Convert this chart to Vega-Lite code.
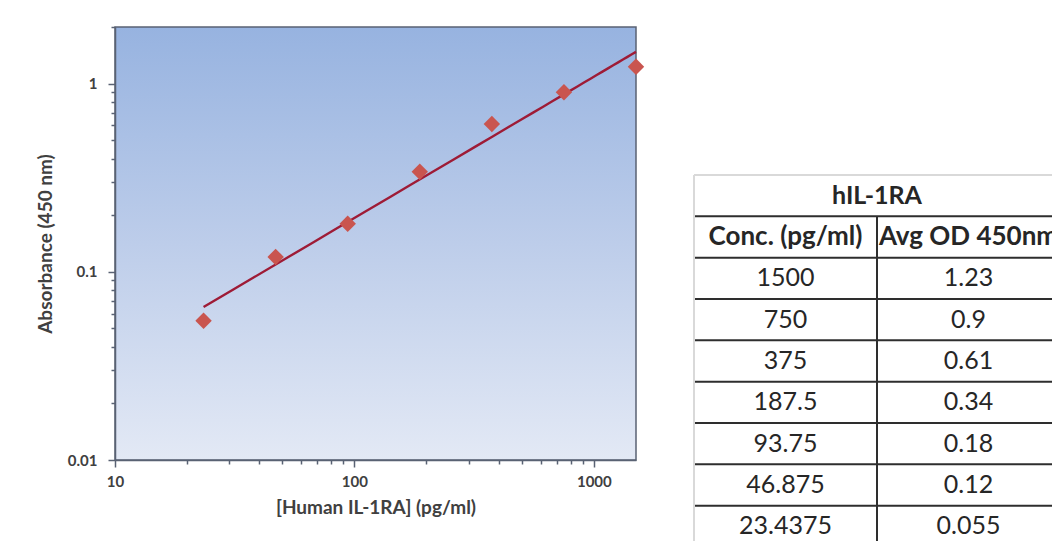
{
  "$schema": "https://vega.github.io/schema/vega-lite/v6.json",
  "background": "white",
  "padding": {"left": 35, "top": 25, "right": 0, "bottom": 0},
  "spacing": 48,
  "config": {"view": {"stroke": null}, "font": "Lato"},
  "datasets": {
    "std": [
      {"conc": 1500, "od": 1.23},
      {"conc": 750, "od": 0.9},
      {"conc": 375, "od": 0.61},
      {"conc": 187.5, "od": 0.34},
      {"conc": 93.75, "od": 0.18},
      {"conc": 46.875, "od": 0.12},
      {"conc": 23.4375, "od": 0.055}
    ]
  },
  "hconcat": [
    {
      "width": 521,
      "height": 433,
      "view": {
        "stroke": "#596273",
        "strokeWidth": 1.5,
        "fill": {
          "gradient": "linear",
          "x1": 0, "y1": 0, "x2": 0, "y2": 1,
          "stops": [
            {"offset": 0, "color": "#97b3e0"},
            {"offset": 0.5, "color": "#bdcdea"},
            {"offset": 1, "color": "#e3e9f5"}
          ]
        }
      },
      "data": {"name": "std"},
      "layer": [
        {
          "transform": [{"regression": "od", "on": "conc", "method": "pow"}],
          "mark": {"type": "line", "color": "#9e1b36", "strokeWidth": 2.4},
          "encoding": {
            "x": {
              "field": "conc", "type": "quantitative",
              "scale": {"type": "log", "domain": [10, 1500], "nice": false},
              "axis": {
                "title": "[Human IL-1RA] (pg/ml)",
                "values": [10, 20, 30, 40, 50, 60, 70, 80, 90, 100, 200, 300, 400, 500, 600, 700, 800, 900, 1000],
                "labelExpr": "(datum.value == 10 || datum.value == 100 || datum.value == 1000) ? format(datum.value, 'd') : ''",
                "labelOverlap": false,
                "labelFlush": false,
                "grid": false,
                "tickSize": {"condition": {"test": "datum.value == 10 || datum.value == 100 || datum.value == 1000", "value": 7}, "value": 4},
                "labelFontSize": {"condition": {"test": "datum.value == 10 || datum.value == 100 || datum.value == 1000", "value": 15}, "value": 0},
                "tickColor": "#596273",
                "tickWidth": 1.5,
                "domainColor": "#596273",
                "domainWidth": 1.5,
                "labelPadding": 7,
                "labelFont": "Lato",
                "labelFontWeight": "bold",
                "labelColor": "#404040",
                "titleFont": "Lato",
                "titleFontSize": 19,
                "titleFontWeight": "bold",
                "titleColor": "#404040",
                "titlePadding": 9
              }
            },
            "y": {
              "field": "od", "type": "quantitative",
              "scale": {"type": "log", "domain": [0.01, 2], "nice": false},
              "axis": {
                "title": "Absorbance (450 nm)",
                "values": [0.01, 0.02, 0.03, 0.04, 0.05, 0.06, 0.07, 0.08, 0.09, 0.1, 0.2, 0.3, 0.4, 0.5, 0.6, 0.7, 0.8, 0.9, 1, 2],
                "labelExpr": "(datum.value == 0.01 || datum.value == 0.1 || datum.value == 1) ? format(datum.value, '~g') : ''",
                "labelOverlap": false,
                "labelFlush": false,
                "grid": false,
                "tickSize": {"condition": {"test": "datum.value == 0.01 || datum.value == 0.1 || datum.value == 1", "value": 7}, "value": 4},
                "labelFontSize": {"condition": {"test": "datum.value == 0.01 || datum.value == 0.1 || datum.value == 1", "value": 15}, "value": 0},
                "tickColor": "#596273",
                "tickWidth": 1.5,
                "domainColor": "#596273",
                "domainWidth": 1.5,
                "labelPadding": 11,
                "labelFont": "Lato",
                "labelFontWeight": "bold",
                "labelColor": "#404040",
                "titleFont": "Lato",
                "titleFontSize": 19,
                "titleFontWeight": "bold",
                "titleColor": "#404040",
                "titlePadding": 12
              }
            }
          }
        },
        {
          "mark": {"type": "point", "shape": "diamond", "filled": true, "size": 270, "color": "#c9554f", "opacity": 1},
          "encoding": {
            "x": {"field": "conc", "type": "quantitative"},
            "y": {"field": "od", "type": "quantitative"}
          }
        }
      ]
    },
    {
      "width": 366,
      "height": 520,
      "data": {"name": "std"},
      "layer": [
        {
          "mark": {"type": "rule", "color": "#2e2e2e", "strokeWidth": 2},
          "encoding": {
            "y": {
              "field": "conc", "type": "nominal", "bandPosition": 0,
              "scale": {
                "type": "band",
                "domain": ["hIL-1RA", "Conc. (pg/ml)", 1500, 750, 375, 187.5, 93.75, 46.875, 23.4375],
                "range": [148, 520],
                "paddingInner": 0, "paddingOuter": 0
              },
              "axis": null
            }
          }
        },
        {
          "data": {"values": [{}]},
          "mark": {"type": "rule", "color": "#2e2e2e", "strokeWidth": 2},
          "encoding": {
            "y": {"datum": "Conc. (pg/ml)", "type": "nominal", "bandPosition": 0}
          }
        },
        {
          "data": {"values": [{}]},
          "mark": {"type": "rule", "color": "#d9d9d9", "strokeWidth": 2},
          "encoding": {
            "y": {"datum": "hIL-1RA", "type": "nominal", "bandPosition": 0}
          }
        },
        {
          "data": {"values": [{}]},
          "mark": {"type": "rule", "color": "#2e2e2e", "strokeWidth": 2},
          "encoding": {
            "x": {
              "datum": "od", "type": "nominal", "bandPosition": 0,
              "scale": {"type": "band", "domain": ["conc", "od"], "paddingInner": 0, "paddingOuter": 0},
              "axis": null
            },
            "y": {"datum": "Conc. (pg/ml)", "type": "nominal", "bandPosition": 0},
            "y2": {"datum": 23.4375, "bandPosition": 1}
          }
        },
        {
          "data": {"values": [{}]},
          "mark": {"type": "rule", "color": "#d9d9d9", "strokeWidth": 2},
          "encoding": {
            "x": {"datum": "conc", "type": "nominal", "bandPosition": 0},
            "y": {"datum": "hIL-1RA", "type": "nominal", "bandPosition": 0},
            "y2": {"datum": 23.4375, "bandPosition": 1}
          }
        },
        {
          "data": {"values": [{}]},
          "mark": {"type": "text", "text": "hIL-1RA", "font": "Lato", "fontSize": 25, "fontWeight": "bold", "color": "#262626", "align": "center", "baseline": "middle"},
          "encoding": {
            "y": {"datum": "hIL-1RA", "type": "nominal"}
          }
        },
        {
          "data": {"values": [{"col": "conc", "label": "Conc. (pg/ml)"}, {"col": "od", "label": "Avg OD 450nm"}]},
          "mark": {"type": "text", "font": "Lato", "fontSize": 26, "fontWeight": "bold", "color": "#262626", "align": "center", "baseline": "middle"},
          "encoding": {
            "x": {"field": "col", "type": "nominal"},
            "y": {"datum": "Conc. (pg/ml)", "type": "nominal"},
            "text": {"field": "label", "type": "nominal"}
          }
        },
        {
          "mark": {"type": "text", "font": "Lato", "fontSize": 25, "color": "#262626", "align": "center", "baseline": "middle"},
          "encoding": {
            "x": {"datum": "conc", "type": "nominal"},
            "y": {"field": "conc", "type": "nominal"},
            "text": {"field": "conc", "type": "nominal"}
          }
        },
        {
          "mark": {"type": "text", "font": "Lato", "fontSize": 25, "color": "#262626", "align": "center", "baseline": "middle"},
          "encoding": {
            "x": {"datum": "od", "type": "nominal"},
            "y": {"field": "conc", "type": "nominal"},
            "text": {"field": "od", "type": "nominal"}
          }
        }
      ]
    }
  ]
}
